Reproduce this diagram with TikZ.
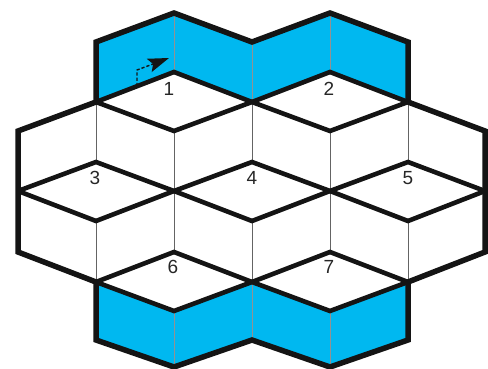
\documentclass[tikz,border=0pt]{standalone}
\usepackage{fontspec}
\setmainfont{Liberation Sans}
\usetikzlibrary{arrows.meta}
\definecolor{faceblue}{RGB}{0,184,240}
\definecolor{thingrey}{RGB}{100,100,100}
\tikzset{
  face/.style={fill=faceblue,draw=none},
  divider/.style={draw=thingrey!70,line width=1pt},
  thinline/.style={draw=thingrey,line width=1pt},
  rhomb/.style={draw=black!92,line width=4.6pt,line join=miter},
  sidejoin/.style={miter limit=1.2},
  outline/.style={draw=black!92,line width=5.5pt,line join=miter},
  lbl/.style={font=\fontsize{19}{19}\selectfont,inner sep=0pt,text=black!85},
  movearrow/.style={draw=black!92,line width=1.4pt,dash pattern=on 3.2pt off 2pt,
    -{Stealth[length=21pt,width=14pt,inset=4pt]}}
}
\begin{document}
\begin{tikzpicture}[x=1pt,y=-1pt]
\useasboundingbox (0,0) rectangle (488,369);
% blue faces
\fill[face] (96,42) -- (174,13) -- (174,72) -- (96,102) -- cycle;
\fill[face] (174,13) -- (252,42) -- (252,102) -- (174,72) -- cycle;
\fill[face] (252,42) -- (330,13) -- (330,72) -- (252,102) -- cycle;
\fill[face] (330,13) -- (408,42) -- (408,102) -- (330,72) -- cycle;
\fill[face] (96,282) -- (174,311) -- (174,367) -- (96,340) -- cycle;
\fill[face] (174,311) -- (252,282) -- (252,340) -- (174,367) -- cycle;
\fill[face] (252,282) -- (330,311) -- (330,367) -- (252,340) -- cycle;
\fill[face] (330,311) -- (408,282) -- (408,340) -- (330,367) -- cycle;
% dividers in blue faces
\draw[divider] (174,13) -- (174,72);
\draw[divider] (252,42) -- (252,102);
\draw[divider] (330,13) -- (330,72);
\draw[divider] (174,311) -- (174,367);
\draw[divider] (252,282) -- (252,340);
\draw[divider] (330,311) -- (330,367);
% thin interior verticals
\draw[thinline] (96,102) -- (96,162);
\draw[thinline] (96,221) -- (96,282);
\draw[thinline] (174,131) -- (174,252);
\draw[thinline] (252,102) -- (252,162);
\draw[thinline] (252,221) -- (252,282);
\draw[thinline] (330,131) -- (330,252);
\draw[thinline] (408,102) -- (408,162);
\draw[thinline] (408,221) -- (408,282);
% rhombi
\draw[rhomb] (174,72) -- (252,102) -- (174,131) -- (96,102) -- cycle;
\draw[rhomb] (330,72) -- (408,102) -- (330,131) -- (252,102) -- cycle;
\draw[rhomb,sidejoin] (96,162) -- (174,191) -- (96,221) -- (18,191) -- cycle;
\draw[rhomb] (252,162) -- (330,191) -- (252,221) -- (174,191) -- cycle;
\draw[rhomb,sidejoin] (408,162) -- (485,191) -- (408,221) -- (330,191) -- cycle;
\draw[rhomb] (174,252) -- (252,282) -- (174,311) -- (96,282) -- cycle;
\draw[rhomb] (330,252) -- (408,282) -- (330,311) -- (252,282) -- cycle;
% outline
\draw[outline] (96,42) -- (174,13) -- (252,42) -- (330,13) -- (408,42) -- (408,102)
  -- (485,131) -- (485,252) -- (408,282) -- (408,340) -- (330,367) -- (252,340)
  -- (174,367) -- (96,340) -- (96,282) -- (18,252) -- (18,131) -- (96,102) -- cycle;
% labels
\node[lbl] (l1) at (169,89) {1};
\node[lbl] (l2) at (329,89) {2};
\node[lbl] (l3) at (95,178) {3};
\node[lbl] (l4) at (252,178) {4};
\node[lbl] (l5) at (408,178) {5};
\node[lbl] (l6) at (173,267) {6};
\node[lbl] (l7) at (329,267) {7};
% dashed arrow
\coordinate (a0) at (137,86);
\coordinate (a1) at (137,70);
\coordinate (a2) at (169,58);
\draw[movearrow] (a0) -- (a1) -- (a2);
\end{tikzpicture}
\end{document}
